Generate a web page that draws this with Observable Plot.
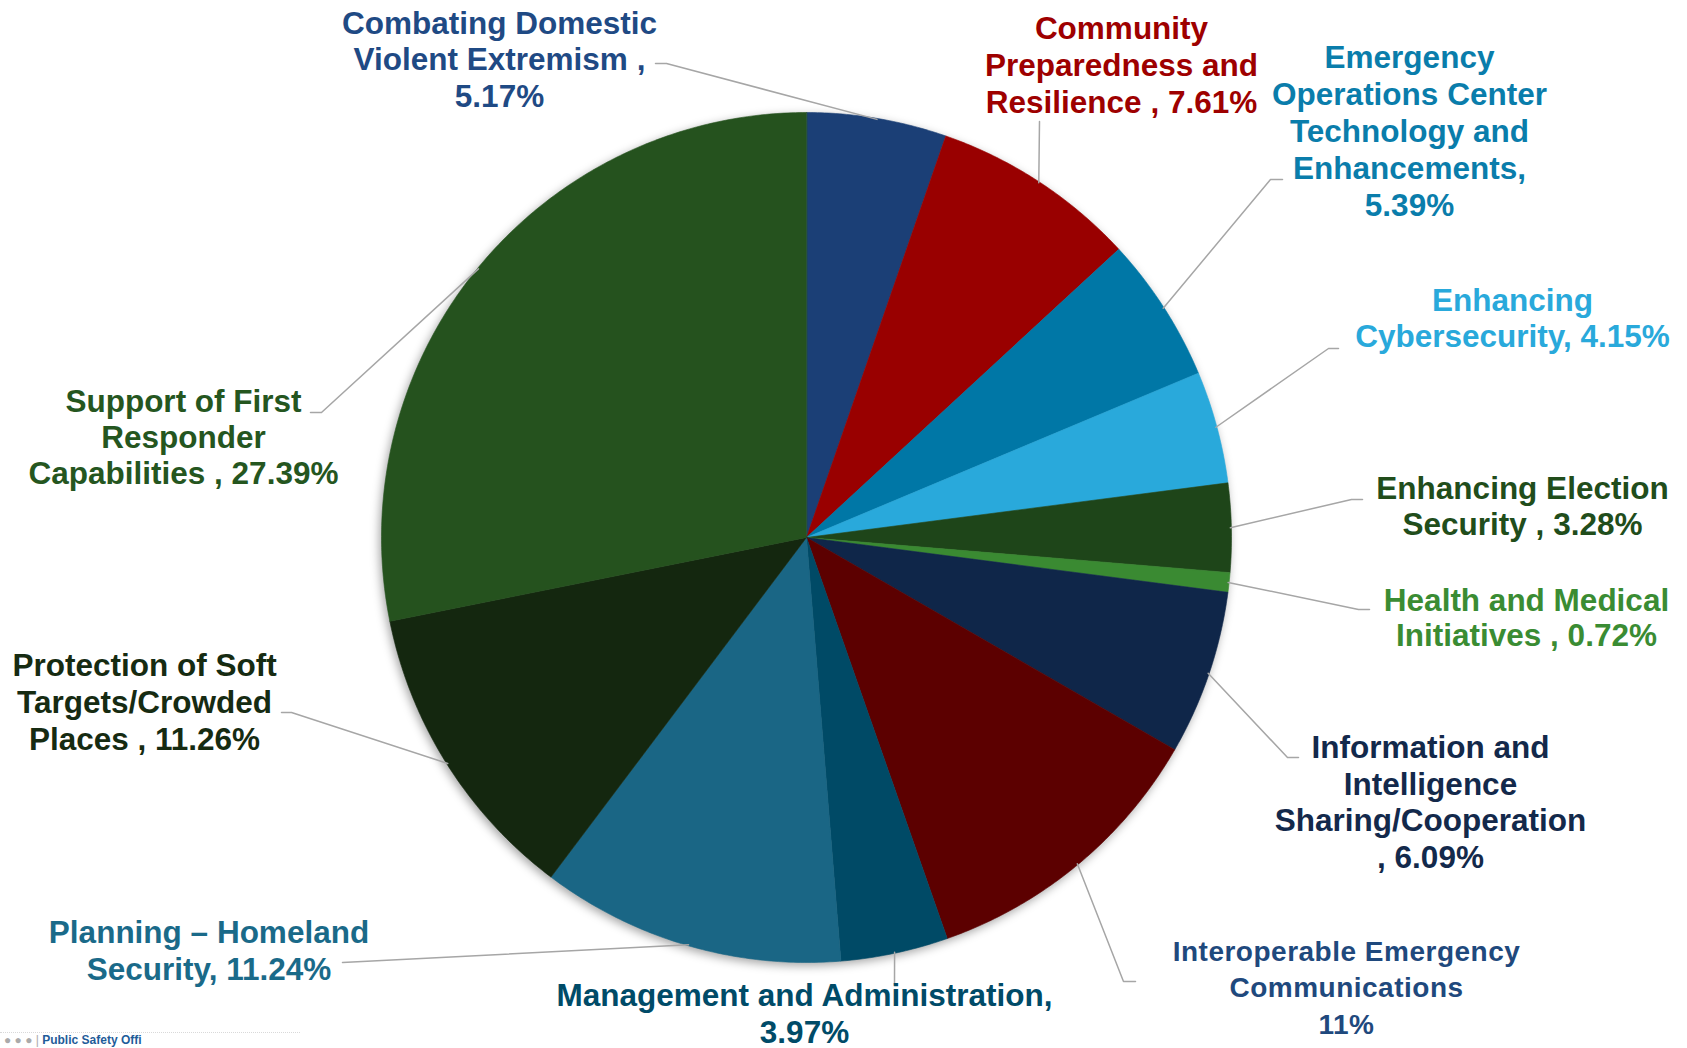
<!DOCTYPE html>
<html>
<head>
<meta charset="utf-8">
<script src="https://cdn.jsdelivr.net/npm/d3@7"></script>
<script src="https://cdn.jsdelivr.net/npm/@observablehq/plot@0.6"></script>
<style>
  html, body { margin: 0; padding: 0; background: #ffffff; overflow: hidden; }
  #chart { position: relative; width: 1687px; height: 1048px; }
  #footer { position: absolute; left: 0; top: 1030px; width: 320px; height: 18px; overflow: hidden; }
  #footer .rule { position: absolute; left: 0; top: 2px; width: 300px; border-top: 1px dotted #d9d9d9; }
  #footer .txt { position: absolute; left: 4px; top: 4px; font: bold 12px "Liberation Sans", Arial, sans-serif; line-height: 13px; color: #1F5C99; white-space: nowrap; }
  #footer .txt span { color: #aaaaaa; font-weight: normal; }
</style>
</head>
<body>
<div id="chart"></div>
<script>
// ---------- data ----------
const categories = [
  "Combating Domestic Violent Extremism",
  "Community Preparedness and Resilience",
  "Emergency Operations Center Technology and Enhancements",
  "Enhancing Cybersecurity",
  "Enhancing Election Security",
  "Health and Medical Initiatives",
  "Information and Intelligence Sharing/Cooperation",
  "Interoperable Emergency Communications",
  "Management and Administration",
  "Planning – Homeland Security",
  "Protection of Soft Targets/Crowded Places",
  "Support of First Responder Capabilities"
];
const values = [5.17, 7.61, 5.39, 4.15, 3.28, 0.72, 6.09, 11, 3.97, 11.24, 11.26, 27.39];
const labelPrefixes = [
  "Combating Domestic\nViolent Extremism ,\n",
  "Community\nPreparedness and\nResilience , ",
  "Emergency\nOperations Center\nTechnology and\nEnhancements,\n",
  "Enhancing\nCybersecurity, ",
  "Enhancing Election\nSecurity , ",
  "Health and Medical\nInitiatives , ",
  "Information and\nIntelligence\nSharing/Cooperation\n, ",
  "Interoperable Emergency\nCommunications\n",
  "Management and Administration,\n",
  "Planning – Homeland\nSecurity, ",
  "Protection of Soft\nTargets/Crowded\nPlaces , ",
  "Support of First\nResponder\nCapabilities , "
];

// ---------- styles ----------
const sliceColors = ["#1B3F76", "#990000", "#0077A6", "#29A9DB", "#1E4519", "#3A8A32",
                     "#0F2649", "#5C0000", "#004A66", "#1A6685", "#14270F", "#25521E"];
const labelColors = ["#1F4A84", "#9E0000", "#0A7DAB", "#29A9DB", "#214D1B", "#3A8C33",
                     "#13294B", "#1F497D", "#004B68", "#1A6A89", "#162B12", "#25561F"];

// ---------- layout (pixels) ----------
const CX = 806, CY = 537, R = 425;
// label centre x, first baseline y, font size, line spacing, letter spacing
const labelLayout = [
  {x: 499,  y: 33,    size: 31.5, lh: 36.5, ls: 0},
  {x: 1121, y: 38.5,  size: 31.5, lh: 37,   ls: 0},
  {x: 1409, y: 67.5,  size: 31.5, lh: 37,   ls: 0},
  {x: 1512, y: 310,   size: 31.5, lh: 36.7, ls: 0},
  {x: 1522, y: 498.3, size: 31.5, lh: 35.7, ls: 0},
  {x: 1526, y: 610,   size: 31.5, lh: 35.7, ls: 0},
  {x: 1430, y: 757.3, size: 31.5, lh: 36.7, ls: 0},
  {x: 1346, y: 960.7, size: 28,   lh: 36.2, ls: 0.5},
  {x: 804,  y: 1005.7,size: 31.5, lh: 36.5, ls: 0},
  {x: 208.5,y: 942.3, size: 31.5, lh: 36.7, ls: 0},
  {x: 144,  y: 675.7, size: 31.5, lh: 36.7, ls: 0},
  {x: 183,  y: 411.7, size: 31.5, lh: 36,   ls: 0}
];
// leader line: point next to the label, then elbow; the end on the pie comes from the data
const leaderLayout = [
  [[655, 63], [666, 63]],
  [[1039, 121], [1039, 121]],
  [[1282, 179], [1270, 179]],
  [[1338, 348], [1328, 348]],
  [[1362, 499], [1351, 499]],
  [[1369, 609], [1358, 609]],
  [[1298, 757], [1287, 757]],
  [[1135, 981], [1123, 981]],
  [[894, 984], [894, 984]],
  [[342, 962], [342, 962]],
  [[281, 712], [291, 712]],
  [[310, 412], [321, 412]]
];

// ---------- geometry from data ----------
const arcs = d3.pie().sort(null).value(d => d).startAngle(0).endAngle(2 * Math.PI)(values);
const pt = (a, r = R) => [CX + r * Math.sin(a), CY - r * Math.cos(a)];

const slicePts = [];
arcs.forEach((a, i) => {
  slicePts.push({k: i, x: CX, y: CY, c: sliceColors[i]});
  const n = Math.max(2, Math.ceil((a.endAngle - a.startAngle) / (Math.PI / 360)));
  for (let j = 0; j <= n; j++) {
    const t = a.startAngle + (a.endAngle - a.startAngle) * j / n;
    const [x, y] = pt(t);
    slicePts.push({k: i, x, y, c: sliceColors[i]});
  }
});

const leaderPts = [];
arcs.forEach((a, i) => {
  const mid = (a.startAngle + a.endAngle) / 2;
  const [ex, ey] = pt(mid, R - 1);
  const [p0, p1] = leaderLayout[i];
  leaderPts.push({k: i, x: p0[0], y: p0[1]}, {k: i, x: p1[0], y: p1[1]}, {k: i, x: ex, y: ey});
});

const labels = categories.map((c, i) => {
  const text = labelPrefixes[i] + values[i] + "%";
  const n = text.split("\n").length;
  const L = labelLayout[i];
  return {text, x: L.x, y: L.y + (n - 1) * L.lh, size: L.size, lh: L.lh / L.size, ls: L.ls, color: labelColors[i]};
});

const textMarks = labels.map(l => Plot.text([l], {
  x: "x", y: "y", text: "text",
  fill: l.color, fontSize: l.size, fontWeight: "bold",
  fontFamily: "'Liberation Sans', Arial, sans-serif",
  textAnchor: "middle", lineAnchor: "bottom", lineHeight: l.lh,
  style: l.ls ? `letter-spacing:${l.ls}px` : undefined
}));

const svg = Plot.plot({
  width: 1687, height: 1048, margin: 0,
  x: {domain: [0, 1687], range: [0, 1687], axis: null},
  y: {domain: [0, 1048], range: [0, 1048], axis: null},
  color: {type: "identity"},
  style: {background: "#ffffff", overflow: "visible"},
  marks: [
    Plot.line(slicePts, {x: "x", y: "y", z: "k", fill: "c", stroke: "c", strokeWidth: 0.6, curve: "linear-closed"}),
    Plot.line(leaderPts, {x: "x", y: "y", z: "k", stroke: "#A6A6A6", strokeWidth: 1.5}),
    ...textMarks
  ]
});
const pieG = svg.querySelector('g[aria-label="line"]');
if (pieG) pieG.style.filter = "drop-shadow(-2px 3px 5px rgba(0,0,0,0.35))";
// letter spacing for the smaller label
svg.querySelectorAll('g[aria-label="text"]').forEach((g, i) => {
  if (labels[i] && labels[i].ls) g.setAttribute("letter-spacing", labels[i].ls + "px");
});

const chart = document.getElementById("chart");
chart.appendChild(svg);
const footer = document.createElement("div");
footer.id = "footer";
footer.innerHTML = '<div class="rule"></div><div class="txt"><span>● ● ● |</span> Public Safety Offi</div>';
chart.appendChild(footer);
</script>
</body>
</html>
